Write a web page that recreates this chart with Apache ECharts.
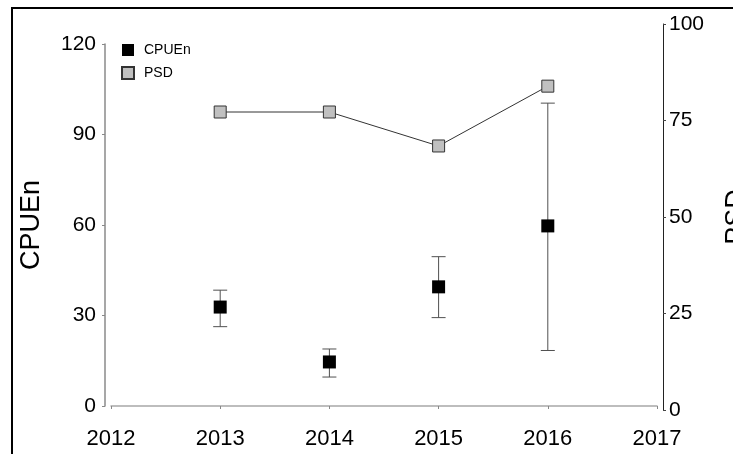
<!DOCTYPE html>
<html>
<head>
<meta charset="utf-8">
<script src="https://cdn.jsdelivr.net/npm/echarts@6/dist/echarts.min.js"></script>
<style>
  html, body { margin: 0; padding: 0; background: #fff; }
  #chart { width: 733px; height: 454px; }
</style>
</head>
<body>
<div id="chart"></div>
<script>
// Survey years
const years = [2013, 2014, 2015, 2016];
// Catch per unit effort (mean) with lower / upper error limits
const cpueMean = [32.8, 14.6, 39.5, 59.7];
const cpueLow = [26.3, 9.6, 29.3, 18.4];
const cpueHigh = [38.4, 18.9, 49.5, 100.4];
// Proportional size distribution
const psd = [77.2, 77.2, 68.4, 83.9];
// Axis settings
const xTicks = { min: 2012, max: 2017, step: 1 };
const leftTicks = { min: 0, max: 120, step: 30 };
const rightTicks = { min: 0, max: 100, step: 25 };

const FONT = "'Liberation Sans', Arial, sans-serif";

const chart = echarts.init(document.getElementById('chart'), null, { renderer: 'canvas' });

const errData = years.map((y, i) => [y, cpueLow[i], cpueHigh[i]]);

function renderErr(params, api) {
  const x = api.value(0);
  const lo = api.coord([x, api.value(1)]);
  const hi = api.coord([x, api.value(2)]);
  const half = 7;
  const style = { stroke: '#505050', lineWidth: 1 };
  return {
    type: 'group',
    children: [
      { type: 'line', shape: { x1: lo[0], y1: lo[1], x2: hi[0], y2: hi[1] }, style },
      { type: 'line', shape: { x1: hi[0] - half, y1: hi[1], x2: hi[0] + half, y2: hi[1] }, style },
      { type: 'line', shape: { x1: lo[0] - half, y1: lo[1], x2: lo[0] + half, y2: lo[1] }, style }
    ]
  };
}

const option = {
  animation: false,
  backgroundColor: '#fff',
  textStyle: { fontFamily: FONT },
  graphic: [
    {
      type: 'rect',
      shape: { x: 12, y: 8, width: 800, height: 600 },
      style: { fill: 'none', stroke: '#000', lineWidth: 2 },
      silent: true
    }
  ],
  legend: {
    orient: 'vertical',
    left: 121,
    top: 43,
    padding: 0,
    itemWidth: 12,
    itemHeight: 12,
    itemGap: 9,
    icon: 'rect',
    textStyle: { fontFamily: FONT, fontSize: 14, color: '#000', padding: [0, 0, 0, 5] },
    data: ['CPUEn', 'PSD']
  },
  grid: [
    { left: 111, right: 76, top: 44, bottom: 48, containLabel: false, outerBoundsMode: 'none' },
    { left: 111, right: 76, top: 24, bottom: 44, containLabel: false, outerBoundsMode: 'none' }
  ],
  xAxis: [
    {
      gridIndex: 0,
      type: 'value',
      min: xTicks.min, max: xTicks.max, interval: xTicks.step,
      offset: 14,
      axisLine: { lineStyle: { color: '#a8a8a8', width: 1.5 } },
      axisTick: { show: true, length: 3, lineStyle: { color: '#888' } },
      axisLabel: {
        margin: 8, fontSize: 22, color: '#000', fontFamily: FONT,
        formatter: v => String(v)
      },
      splitLine: { show: false }
    },
    {
      gridIndex: 1,
      type: 'value',
      min: xTicks.min, max: xTicks.max, interval: xTicks.step,
      show: false
    }
  ],
  yAxis: [
    {
      gridIndex: 0,
      type: 'value',
      position: 'left',
      min: leftTicks.min, max: leftTicks.max, interval: leftTicks.step,
      offset: 6,
      name: 'CPUEn',
      nameLocation: 'middle',
      nameGap: 60,
      nameTextStyle: { fontSize: 27, color: '#000', fontFamily: FONT },
      axisLine: { show: true, lineStyle: { color: '#8a8a8a', width: 1.5 } },
      axisTick: { show: true, length: 3, lineStyle: { color: '#888' } },
      axisLabel: { margin: 9, fontSize: 21, color: '#000', fontFamily: FONT },
      splitLine: { show: false }
    },
    {
      gridIndex: 1,
      type: 'value',
      position: 'right',
      min: rightTicks.min, max: rightTicks.max, interval: rightTicks.step,
      offset: 6,
      name: 'PSD',
      nameLocation: 'middle',
      nameGap: 60,
      nameTextStyle: { fontSize: 27, color: '#000', fontFamily: FONT },
      axisLine: { show: true, lineStyle: { color: '#222', width: 1 } },
      axisTick: { show: true, length: 3, lineStyle: { color: '#444' } },
      axisLabel: { margin: 6, fontSize: 21, color: '#000', fontFamily: FONT },
      splitLine: { show: false }
    }
  ],
  series: [
    {
      name: 'CPUEn error',
      type: 'custom',
      xAxisIndex: 0,
      yAxisIndex: 0,
      renderItem: renderErr,
      encode: { x: 0, y: [1, 2] },
      data: errData,
      z: 1,
      silent: true
    },
    {
      name: 'CPUEn',
      type: 'scatter',
      xAxisIndex: 0,
      yAxisIndex: 0,
      symbol: 'rect',
      symbolSize: 13,
      itemStyle: { color: '#000', borderColor: '#000', borderWidth: 0, opacity: 1 },
      data: years.map((y, i) => [y, cpueMean[i]]),
      z: 3
    },
    {
      name: 'PSD',
      type: 'line',
      xAxisIndex: 1,
      yAxisIndex: 1,
      symbol: 'rect',
      symbolSize: 12,
      showSymbol: true,
      lineStyle: { color: '#333', width: 1 },
      itemStyle: { color: '#c0c0c0', borderColor: '#333', borderWidth: 1, opacity: 1 },
      data: years.map((y, i) => [y, psd[i]]),
      z: 3
    }
  ]
};

chart.setOption(option);
</script>
</body>
</html>
